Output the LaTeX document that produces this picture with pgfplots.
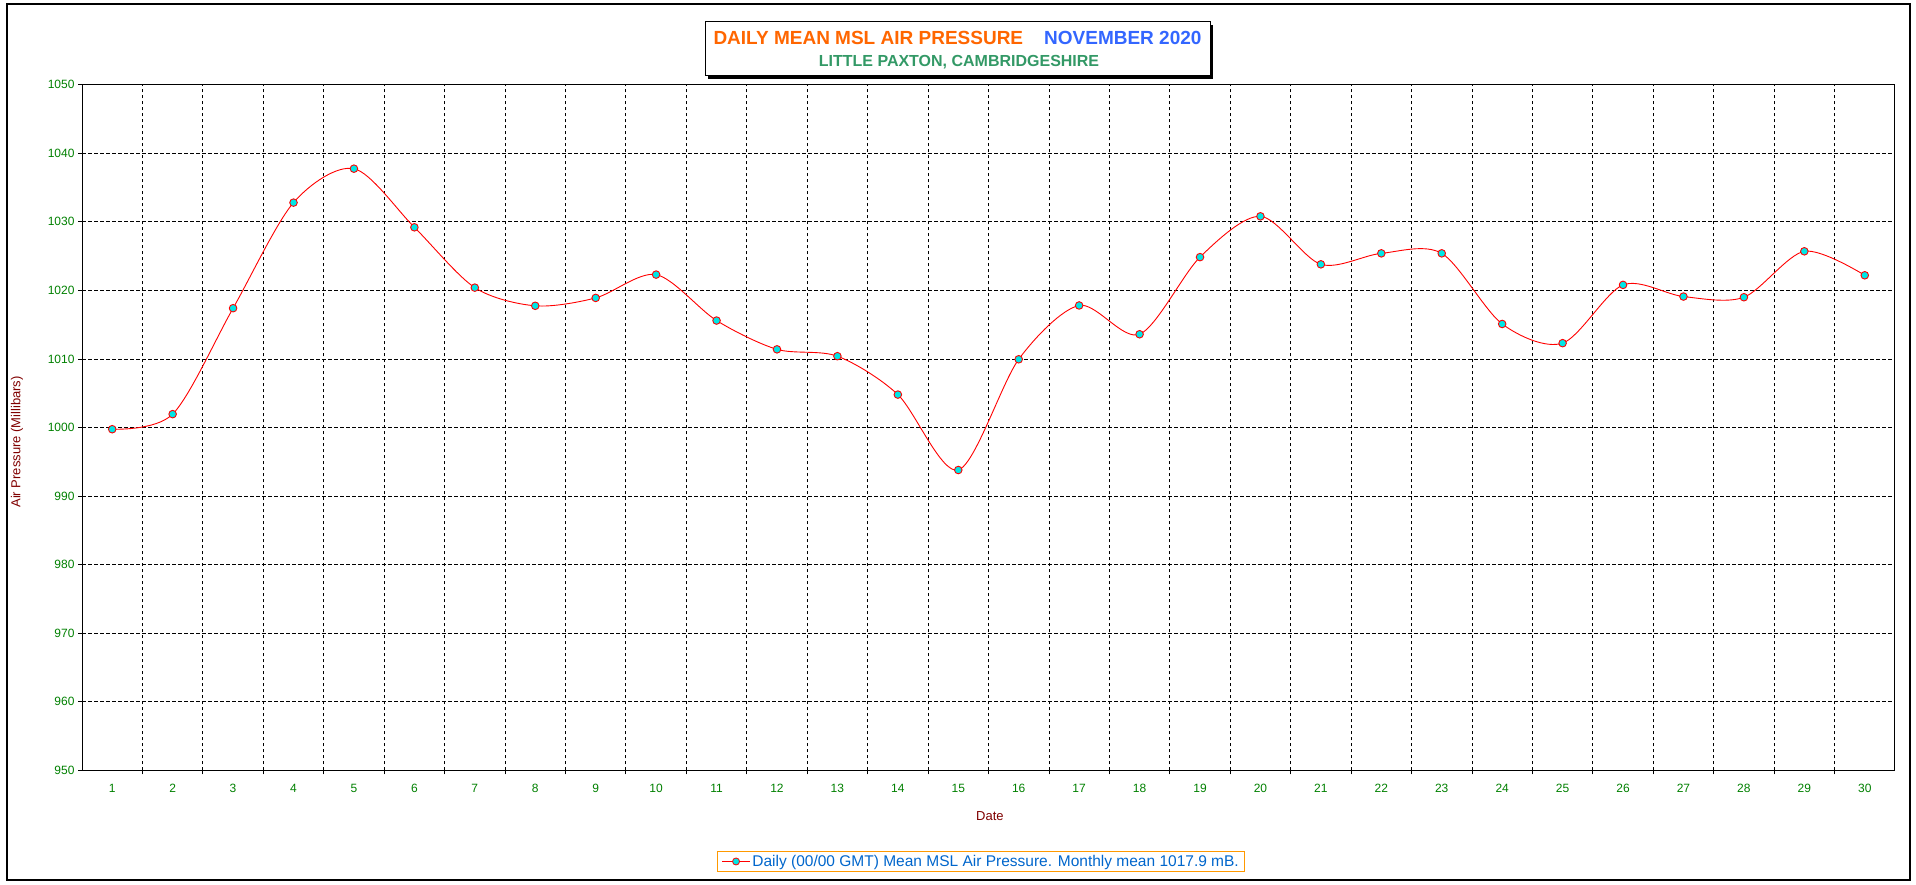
\documentclass[border=0pt]{standalone}
\usepackage{fontspec}
\setmainfont{Liberation Sans}
\usepackage{pgfplots}
\usepackage{pgfplotstable}
\pgfplotsset{compat=1.18}
\definecolor{tickgreen}{RGB}{0,128,0}
\definecolor{labelred}{RGB}{128,0,0}
\definecolor{titleorange}{RGB}{255,102,0}
\definecolor{titleblue}{RGB}{51,102,255}
\definecolor{titlegreen}{RGB}{51,153,102}
\definecolor{legendblue}{RGB}{0,102,204}
\definecolor{legendorange}{RGB}{255,153,0}
\definecolor{markcyan}{RGB}{0,230,230}

\pgfplotstableread{
day p
1 999.75
2 1001.95
3 1017.4
4 1032.8
5 1037.75
6 1029.2
7 1020.4
8 1017.75
9 1018.9
10 1022.3
11 1015.6
12 1011.4
13 1010.4
14 1004.8
15 993.8
16 1009.95
17 1017.8
18 1013.6
19 1024.85
20 1030.8
21 1023.8
22 1025.4
23 1025.4
24 1015.1
25 1012.3
26 1020.8
27 1019.1
28 1019.0
29 1025.7
30 1022.2
}\datatable

\begin{document}
\begin{tikzpicture}
\path[use as bounding box] (0,0) rectangle (1916pt,884pt);
\draw[line width=1.2pt] (7pt,4pt) rectangle (1910pt,880pt);
\begin{axis}[
  at={(82pt,113.7pt)}, anchor=south west,
  scale only axis, width=1813pt, height=685.6pt,
  xmin=0.5, xmax=30.5, ymin=950, ymax=1050,
  xtick={1,...,30},
  minor xtick={1.5,2.5,...,29.5},
  ytick={950,960,...,1050},
  ymajorgrids, xminorgrids,
  grid style={black, line width=0.8pt, dash pattern=on 3.5pt off 2.5pt},
  minor grid style={black, line width=0.8pt, dash pattern=on 3.5pt off 2.5pt},
  major grid style={black, line width=0.8pt, dash pattern=on 3.5pt off 2.5pt},
  tick align=outside,
  xtick pos=bottom, ytick pos=left,
  major tick length=4pt, minor tick length=4pt,
  major x tick style={draw=none},
  tick style={black, line width=0.8pt},
  axis line style={black, line width=1pt},
  /pgf/number format/assume math mode=true,
  /pgf/number format/1000 sep={},
  tick label style={font=\fontsize{12}{14}\selectfont, text=tickgreen},
  xticklabel style={yshift=-6pt},
  xlabel={Date}, ylabel={Air Pressure (Millibars)},
  label style={font=\fontsize{13}{15}\selectfont, text=labelred},
  xlabel style={at={(axis description cs:0.5008,-0.0665)}, anchor=center},
  ylabel style={at={(axis description cs:-0.0359,0.479)}, anchor=center},
  legend style={at={(0.496,-0.133)}, anchor=center, draw=legendorange, line width=1pt,
    font=\fontsize{15.5}{18}\selectfont, text=legendblue, inner xsep=4pt, inner ysep=2pt},
  legend image code/.code={
    \draw[red, line width=0.8pt] (0pt,0pt) -- (28pt,0pt);
    \draw[red, fill=markcyan, line width=0.8pt] (14pt,0pt) circle (3.5pt);
  },
]
\addplot[red, line width=0.9pt, smooth, mark=*, mark size=3.8pt,
  mark options={fill=markcyan, draw=red, line width=0.9pt, solid}]
  table[x=day, y=p] {\datatable};
\addlegendentry{Daily (00/00 GMT) Mean MSL Air Pressure. Monthly mean 1017.9 mB.}
\end{axis}
\fill[black] (708pt,805pt) rectangle (1213pt,859pt);
\draw[fill=white, line width=1pt] (705pt,808pt) rectangle (1210pt,862pt);
\node[anchor=base, font=\bfseries\fontsize{19}{22}\selectfont, inner sep=0pt] at (957.5pt,839pt)
  {\textcolor{titleorange}{DAILY MEAN MSL AIR PRESSURE}\hspace{21pt}\textcolor{titleblue}{NOVEMBER 2020}};
\node[anchor=base, font=\bfseries\fontsize{16}{19}\selectfont, text=titlegreen, inner sep=0pt] at (959pt,817pt)
  {LITTLE PAXTON, CAMBRIDGESHIRE};
\end{tikzpicture}
\end{document}
